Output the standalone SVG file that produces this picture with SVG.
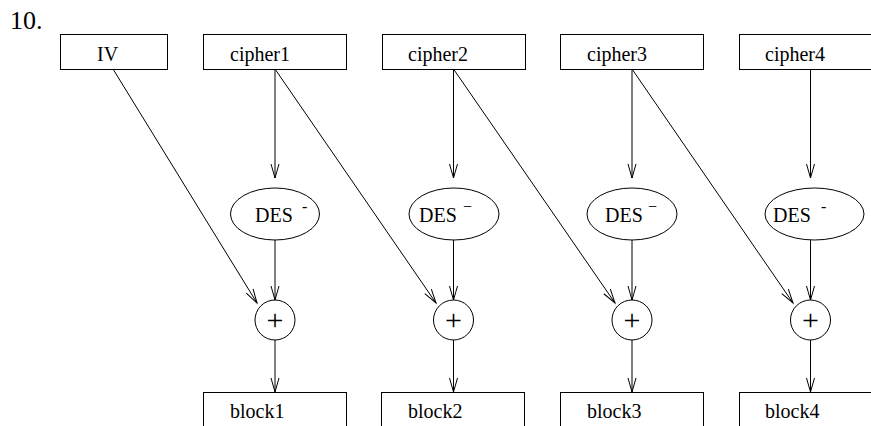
<svg xmlns="http://www.w3.org/2000/svg" width="871" height="426" viewBox="0 0 871 426">
<style>
.box{fill:#fff;stroke:#000;stroke-width:1}
.oval{fill:#fff;stroke:#000;stroke-width:1}
.t{font-family:'Liberation Serif','DejaVu Serif','Times New Roman',serif;font-size:20px;fill:#000}
.c{stroke:#000;stroke-width:1;fill:none;marker-end:url(#arr)}
</style>
<defs>
<marker id="arr" markerUnits="userSpaceOnUse" markerWidth="16" markerHeight="10" refX="14" refY="4" orient="auto" overflow="visible">
<path d="M0,0 L14,4 L0,8" fill="none" stroke="#000" stroke-width="1"/>
</marker>
</defs>
<rect width="871" height="426" fill="#fff"/>
<text x="10" y="29" class="t" font-family="Liberation Serif, serif" style="font-size:26px">10.</text>
<g id="connectors">
<line class="c" x1="113" y1="69" x2="257" y2="303"/>
<line class="c" x1="275" y1="69" x2="436" y2="303"/>
<line class="c" x1="453.5" y1="69" x2="615" y2="303"/>
<line class="c" x1="632" y1="69" x2="793" y2="303"/>
<line class="c" x1="275" y1="69" x2="275" y2="178"/>
<line class="c" x1="453.5" y1="69" x2="453.5" y2="178"/>
<line class="c" x1="632" y1="69" x2="632" y2="178"/>
<line class="c" x1="810.5" y1="69" x2="810.5" y2="178"/>
<line class="c" x1="275" y1="240" x2="275" y2="300"/>
<line class="c" x1="453.5" y1="240" x2="453.5" y2="300"/>
<line class="c" x1="632" y1="240" x2="632" y2="300"/>
<line class="c" x1="810.5" y1="240" x2="810.5" y2="300"/>
<line class="c" x1="275" y1="340" x2="275" y2="392"/>
<line class="c" x1="453.5" y1="340" x2="453.5" y2="392"/>
<line class="c" x1="632" y1="340" x2="632" y2="392"/>
<line class="c" x1="810.5" y1="340" x2="810.5" y2="392"/>
</g>
<g id="iv"><rect class="box" x="60.5" y="34.5" width="107" height="35"/><text class="t" x="97" y="61">IV</text></g>
<g id="cipher1"><rect class="box" x="203.5" y="34.5" width="143" height="35"/><text class="t" x="230" y="61">cipher1</text></g>
<g id="cipher2"><rect class="box" x="382.5" y="34.5" width="143" height="35"/><text class="t" x="408" y="61">cipher2</text></g>
<g id="cipher3"><rect class="box" x="560.5" y="34.5" width="143" height="35"/><text class="t" x="587" y="61">cipher3</text></g>
<g id="cipher4"><rect class="box" x="739.5" y="34.5" width="143" height="35"/><text class="t" x="765" y="61">cipher4</text></g>
<g id="des1"><ellipse class="oval" cx="275" cy="214" rx="44.5" ry="26"/><text class="t" x="255" y="222">DES</text><text class="t" x="302" y="212" style="font-size:16px">-</text></g>
<g id="des2"><ellipse class="oval" cx="454" cy="214" rx="45" ry="26"/><text class="t" x="419" y="222">DES</text><text class="t" x="463" y="212" style="font-size:16px">−</text></g>
<g id="des3"><ellipse class="oval" cx="632" cy="214" rx="45" ry="26"/><text class="t" x="605" y="222">DES</text><text class="t" x="648" y="212" style="font-size:16px">−</text></g>
<g id="des4"><ellipse class="oval" cx="814.5" cy="214" rx="49.5" ry="26"/><text class="t" x="773" y="222">DES</text><text class="t" x="821" y="212" style="font-size:16px">-</text></g>
<g id="xor1"><circle class="oval" cx="275" cy="320" r="20"/><text class="t" x="275" y="330" text-anchor="middle" style="font-size:30px">+</text></g>
<g id="xor2"><circle class="oval" cx="453.5" cy="320" r="20"/><text class="t" x="453.5" y="330" text-anchor="middle" style="font-size:30px">+</text></g>
<g id="xor3"><circle class="oval" cx="632" cy="320" r="20"/><text class="t" x="632" y="330" text-anchor="middle" style="font-size:30px">+</text></g>
<g id="xor4"><circle class="oval" cx="810.5" cy="320" r="20"/><text class="t" x="810.5" y="330" text-anchor="middle" style="font-size:30px">+</text></g>
<g id="block1"><rect class="box" x="203.5" y="392.5" width="143" height="50"/><text class="t" x="230" y="418">block1</text></g>
<g id="block2"><rect class="box" x="381.5" y="392.5" width="143" height="50"/><text class="t" x="408" y="418">block2</text></g>
<g id="block3"><rect class="box" x="560.5" y="392.5" width="143" height="50"/><text class="t" x="587" y="418">block3</text></g>
<g id="block4"><rect class="box" x="739.5" y="392.5" width="143" height="50"/><text class="t" x="765" y="418">block4</text></g>
</svg>
